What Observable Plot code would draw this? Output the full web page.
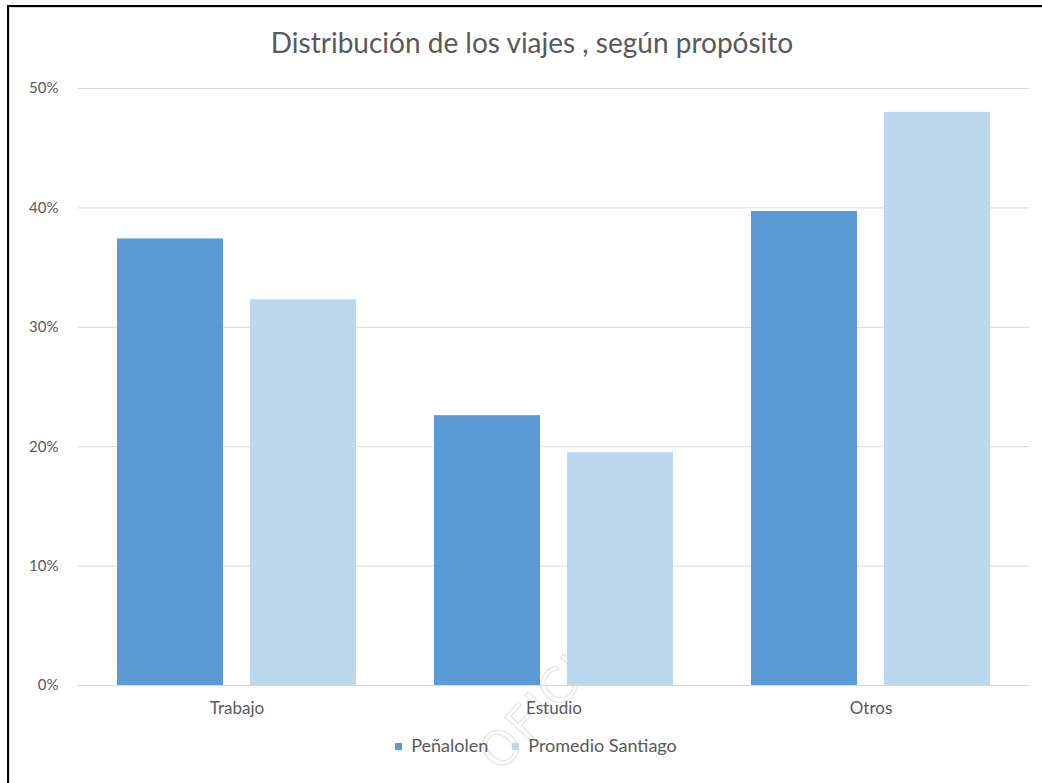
<!DOCTYPE html>
<html>
<head>
<meta charset="utf-8">
<script src="https://cdn.jsdelivr.net/npm/d3@7"></script>
<script src="https://cdn.jsdelivr.net/npm/@observablehq/plot@0.6"></script>
<style>
  html, body { margin: 0; padding: 0; background: #fff; width: 1042px; height: 783px; overflow: hidden; }
  body { position: relative; font-family: Lato, "Open Sans", sans-serif; color: #595959; }
  #frame { position: absolute; left: 7px; top: 5px; width: 1100px; height: 800px; border-left: 2px solid #000; border-top: 2px solid #000; }
  #frame-inner { position: absolute; left: 0; top: 0; width: 1100px; height: 800px; border-left: 1px solid #d9d9d9; border-top: 1px solid #d9d9d9; }
  #title { position: absolute; left: 0; width: 1064px; top: 25px; text-align: center; font-size: 28px; color: #595959; white-space: nowrap; }
  #chart { position: absolute; left: 0; top: 70px; }
  #legend { position: absolute; left: 0; width: 1072px; top: 734px; text-align: center; font-size: 18px; color: #595959; white-space: nowrap; }
  .sw { display: inline-block; width: 7px; height: 7px; margin-right: 9px; vertical-align: 2px; }
  .item { display: inline-block; margin: 0 12px; }
  #wm { position: absolute; left: 505px; top: 730px; font-size: 48px; line-height: 48px; font-family: "DejaVu Sans", sans-serif; color: transparent; -webkit-text-stroke: 1px #e2e2e2; transform: rotate(-47deg); transform-origin: left bottom; letter-spacing: 2px; }
</style>
</head>
<body>
<div id="frame"><div id="frame-inner"></div></div>
<div id="title">Distribución de los viajes , según propósito</div>
<div id="wm">OFICIAL</div>
<div id="chart"></div>
<div id="legend"></div>
<script>
const categories = ["Trabajo", "Estudio", "Otros"];
const seriesNames = ["Peñalolen", "Promedio Santiago"];
const penalolen = [0.374, 0.226, 0.397];
const promedioSantiago = [0.323, 0.195, 0.480];
const yTicks = [0, 0.1, 0.2, 0.3, 0.4, 0.5];
const colors = ["#5b9bd5", "#bdd7ee"];

const rows = [];
categories.forEach((c, i) => {
  rows.push({category: c, series: seriesNames[0], value: penalolen[i]});
  rows.push({category: c, series: seriesNames[1], value: promedioSantiago[i]});
});

const chart = Plot.plot({
  width: 1042,
  height: 655,
  marginTop: 18,
  marginBottom: 40,
  marginLeft: 77,
  marginRight: 12,
  style: {fontFamily: "Lato, 'Open Sans', sans-serif", fontSize: "15px", color: "#595959", background: "transparent"},
  fx: {domain: categories, padding: 0, label: null},
  x: {domain: seriesNames, paddingInner: 0.203, paddingOuter: 0.293, axis: null},
  y: {domain: [0, 0.5], ticks: yTicks, tickFormat: d => Math.round(d * 100) + "%", label: null, tickSize: 0, tickPadding: 20},
  color: {domain: seriesNames, range: colors},
  marks: [
    Plot.ruleY(yTicks, {stroke: "#d9d9d9", strokeWidth: 1}),
    Plot.barY(rows, {fx: "category", x: "series", y: "value", fill: "series"}),
    Plot.ruleY([0], {stroke: "#d9d9d9", strokeWidth: 1}),
    Plot.axisFx({anchor: "bottom", tickSize: 0, tickPadding: 16, fontSize: 17, label: null})
  ]
});
document.getElementById("chart").appendChild(chart);

const legend = document.getElementById("legend");
seriesNames.forEach((s, i) => {
  const item = document.createElement("span");
  item.className = "item";
  const sw = document.createElement("span");
  sw.className = "sw";
  sw.style.background = colors[i];
  item.appendChild(sw);
  item.appendChild(document.createTextNode(s));
  legend.appendChild(item);
});
</script>
</body>
</html>
